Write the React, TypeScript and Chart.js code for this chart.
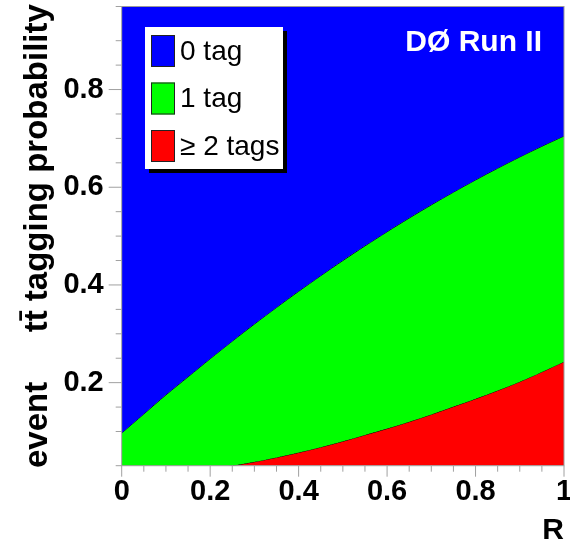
import { useEffect, useRef } from "react";
import { Chart, registerables } from "chart.js";

Chart.register(...registerables);

// ---- data ----
const rValues = [0, 0.05, 0.1, 0.15, 0.2, 0.25, 0.3, 0.35, 0.4, 0.45, 0.5, 0.55, 0.6, 0.65, 0.7, 0.75, 0.8, 0.85, 0.9, 0.95, 1.0];
// total probability (0 tag region extends up to 1)
const pTotal = [1, 1, 1, 1, 1, 1, 1, 1, 1, 1, 1, 1, 1, 1, 1, 1, 1, 1, 1, 1, 1];
// probability of >= 1 tag (top of the green band)
const pAtLeastOneTag = [0.097, 0.136, 0.175, 0.212, 0.249, 0.285, 0.32, 0.354, 0.387, 0.419, 0.45, 0.48, 0.509, 0.537, 0.564, 0.59, 0.615, 0.639, 0.662, 0.684, 0.705];
// probability of >= 2 tags (top of the red band)
const pAtLeastTwoTags = [0.005, 0.007, 0.011, 0.016, 0.022, 0.03, 0.038, 0.047, 0.057, 0.068, 0.08, 0.093, 0.106, 0.12, 0.135, 0.151, 0.167, 0.184, 0.202, 0.222, 0.243];

const seriesLabels = ["0 tag", "1 tag", "\u2265 2 tags"];
const seriesColors = ["#0000ff", "#00ff00", "#ff0000"];

const xTickLabels = [0, 0.2, 0.4, 0.6, 0.8, 1];
const yTickLabels = [0.2, 0.4, 0.6, 0.8];
const xTitle = "R";
const yTitle = "event\u2003\u2002tt\u0304 tagging probability";
const experimentLabel = "D\u00d8 Run II";

const FONT = "'Liberation Sans', Arial, Helvetica, sans-serif";

function matchLabel(list: number[], v: number): string {
  const t = list.find((x) => Math.abs(x - v) < 1e-6);
  return t === undefined ? "" : String(t);
}

const decorPlugin = {
  id: "decor",
  afterDraw(chart: any) {
    const { ctx, chartArea } = chart;
    const xs = chart.scales.x;
    const ys = chart.scales.y;
    ctx.save();
    // frame
    ctx.strokeStyle = "#9a9a9a";
    ctx.lineWidth = 1;
    ctx.strokeRect(chartArea.left, chartArea.top, chartArea.right - chartArea.left, chartArea.bottom - chartArea.top);
    // tick marks
    ctx.strokeStyle = "#a0a0a0";
    ctx.lineWidth = 1;
    xs.ticks.forEach((t: any) => {
      const px = xs.getPixelForValue(t.value);
      const major = matchLabel(xTickLabels, t.value) !== "";
      ctx.beginPath();
      ctx.moveTo(px, chartArea.bottom);
      ctx.lineTo(px, chartArea.bottom + (major ? 11 : 6));
      ctx.stroke();
    });
    ys.ticks.forEach((t: any) => {
      const py = ys.getPixelForValue(t.value);
      if (py < chartArea.top - 0.5 || py > chartArea.bottom + 0.5) return;
      const major = matchLabel(yTickLabels, t.value) !== "";
      ctx.beginPath();
      ctx.moveTo(chartArea.left, py);
      ctx.lineTo(chartArea.left - (major ? 13 : 6), py);
      ctx.stroke();
    });

    // legend box with shadow
    const bx = 145, by = 27, bw = 138, bh = 142;
    ctx.fillStyle = "#000";
    ctx.fillRect(bx + 4, by + 4, bw, bh);
    ctx.fillStyle = "#fff";
    ctx.fillRect(bx, by, bw, bh);
    chart.data.datasets.forEach((ds: any, i: number) => {
      const sy = 35 + i * 47.5;
      ctx.fillStyle = ds.backgroundColor;
      ctx.fillRect(151, sy, 24, 32);
      ctx.strokeStyle = "#222";
      ctx.lineWidth = 1;
      ctx.strokeRect(151.5, sy + 0.5, 23, 31);
      ctx.fillStyle = "#000";
      ctx.font = `28px ${FONT}`;
      ctx.textAlign = "left";
      ctx.textBaseline = "middle";
      ctx.fillText(ds.label, 180, sy + 17);
    });

    // experiment label
    ctx.fillStyle = "#fff";
    ctx.font = `bold 30px ${FONT}`;
    ctx.textAlign = "right";
    ctx.textBaseline = "middle";
    ctx.fillText(experimentLabel, 542, 43);
    ctx.restore();
  },
};

export default function App() {
  const ref = useRef<HTMLCanvasElement | null>(null);

  useEffect(() => {
    if (!ref.current) return;
    const pts = (arr: number[]) => rValues.map((x, i) => ({ x, y: arr[i] }));
    const chart = new Chart(ref.current, {
      type: "line",
      data: {
        datasets: [
          {
            label: seriesLabels[0],
            data: pts(pTotal),
            backgroundColor: seriesColors[0],
            borderWidth: 0,
            pointRadius: 0,
            fill: "+1",
          },
          {
            label: seriesLabels[1],
            data: pts(pAtLeastOneTag),
            backgroundColor: seriesColors[1],
            borderColor: "#000",
            borderWidth: 1,
            pointRadius: 0,
            tension: 0.3,
            fill: "+1",
          },
          {
            label: seriesLabels[2],
            data: pts(pAtLeastTwoTags),
            backgroundColor: seriesColors[2],
            borderColor: "#000",
            borderWidth: 1,
            pointRadius: 0,
            tension: 0.3,
            fill: "start",
          },
        ],
      },
      options: {
        responsive: false,
        animation: false,
        events: [],
        layout: { padding: { top: 6.5, right: 6, bottom: 0, left: 0 } },
        plugins: {
          legend: { display: false },
          tooltip: { enabled: false },
        },
        scales: {
          x: {
            type: "linear",
            min: 0,
            max: 1,
            afterFit: (s: any) => {
              s.height = 84.3;
              s.paddingLeft = 0;
              s.paddingRight = 0;
            },
            grid: { display: false, drawTicks: false },
            border: { display: false },
            ticks: {
              stepSize: 0.05,
              autoSkip: false,
              maxRotation: 0,
              padding: 9,
              color: "#000",
              font: { family: FONT, size: 29, weight: "bold" },
              callback: (v: any) => matchLabel(xTickLabels, Number(v)),
            },
            title: {
              display: true,
              text: xTitle,
              align: "end",
              color: "#000",
              font: { family: FONT, size: 30, weight: "bold" },
              padding: { top: 0, bottom: 1 },
            },
          },
          y: {
            type: "linear",
            min: 0.03,
            max: 0.97,
            afterFit: (s: any) => {
              s.width = 121.7;
              s.paddingTop = 0;
              s.paddingBottom = 0;
            },
            grid: { display: false, drawTicks: false },
            border: { display: false },
            ticks: {
              stepSize: 0.05,
              autoSkip: false,
              padding: 18,
              color: "#000",
              font: { family: FONT, size: 29, weight: "bold" },
              callback: (v: any) => matchLabel(yTickLabels, Number(v)),
            },
            title: {
              display: true,
              text: yTitle,
              color: "#000",
              font: { family: FONT, size: 33, weight: "bold" },
              padding: { top: 18, bottom: 0 },
            },
          },
        },
      },
      plugins: [decorPlugin],
    });
    return () => chart.destroy();
  }, []);

  return (
    <div style={{ position: "fixed", left: 0, top: 0, width: 570, height: 550, background: "#fff" }}>
      <canvas ref={ref} width={570} height={550} style={{ width: 570, height: 550, display: "block" }} />
    </div>
  );
}
